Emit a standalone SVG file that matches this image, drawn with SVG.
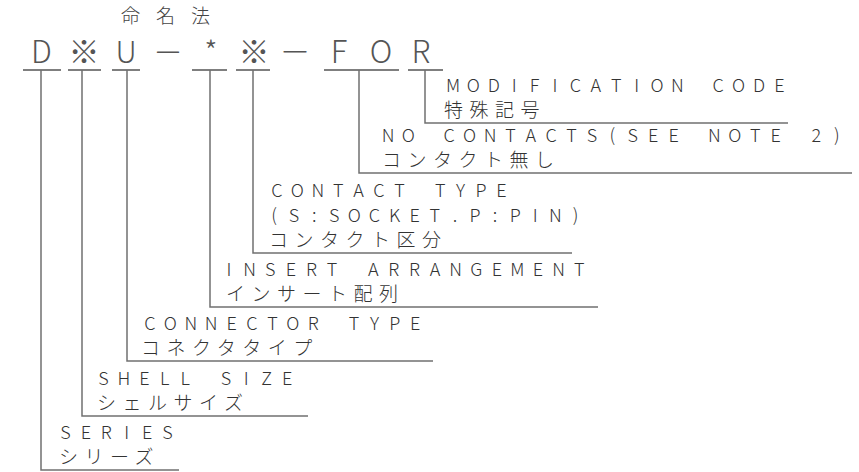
<svg xmlns="http://www.w3.org/2000/svg" width="859" height="472" viewBox="0 0 859 472">
<style>
.bg{fill:#ffffff}
.lat{font-family:"Noto Sans CJK JP","Noto Sans CJK SC",sans-serif;font-size:18px;fill:#333;font-weight:300}
.jp{font-family:"Noto Sans CJK JP","Noto Sans CJK SC",sans-serif;font-size:19px;letter-spacing:6.5px;fill:#333;font-weight:300}
.title{font-family:"Noto Sans CJK JP","Noto Sans CJK SC",sans-serif;font-size:19px;letter-spacing:16px;fill:#444;font-weight:300}
.code{font-family:"Noto Sans CJK JP","Noto Sans CJK SC",sans-serif;font-size:31px;fill:#555;font-weight:300}
.codes{font-family:"Noto Sans CJK JP","Noto Sans CJK SC",sans-serif;font-size:30px;fill:#555;font-weight:300}
.ul{stroke:#555;stroke-width:1.4;fill:none}
.br{stroke:#707070;stroke-width:1.5;fill:none}
</style>
<rect class="bg" x="0" y="0" width="859" height="472"/>
<g id="title"><text class="title" x="121" y="22.5">命名法</text></g>
<g id="code">
<text class="code" x="41.5 84" y="63" text-anchor="middle">D※</text>
<text class="codes" x="126 168 211" y="63" text-anchor="middle">U－*</text>
<text class="code" x="254 295 339 381 421" y="63" text-anchor="middle">※－FOR</text>
<path class="ul" d="M23 70H61M68 70H101M112 70H140M192 70H227M236 70H270M324 70H399M408 70H443"/>
</g>
<g id="connectors">
<path class="br" d="M425 70V123H788"/>
<path class="br" d="M359 70V173H852"/>
<path class="br" d="M253 70V253H572"/>
<path class="br" d="M210 70V307H598"/>
<path class="br" d="M127 70V361H433"/>
<path class="br" d="M82 70V416H308"/>
<path class="br" d="M41 70V470H179"/>
</g>
<g id="modification">
<text class="lat" text-anchor="middle" x="453 473.4 493.8 514.2 534.6 555 575.4 595.8 616.2 636.6 657 677.4 697.8 718.2 738.6 759 779.4" y="92">MODIFICATION CODE</text>
<text class="jp" x="444" y="117">特殊記号</text>
</g>
<g id="no-contacts">
<text class="lat" text-anchor="middle" x="388 408.4 428.8 449.2 469.6 490 510.4 530.8 551.2 571.6 592 612.4 632.8 653.2 673.6 694 714.4 734.8 755.2 775.6 796 816.4 836.8" y="142">NO CONTACTS(SEE NOTE 2)</text>
<text class="jp" x="382" y="167">コンタクト無し</text>
</g>
<g id="contact-type">
<text class="lat" text-anchor="middle" x="277 297.4 317.8 338.2 358.6 379 399.4 419.8 440.2 460.6 481 501.4" y="197">CONTACT TYPE</text>
<text class="lat" text-anchor="middle" x="274 294.1 314.2 334.3 354.4 374.5 394.6 414.7 434.8 454.9 475 495.1 515.2 535.3 555.4 575.5" y="222">(S:SOCKET.P:PIN)</text>
<text class="jp" x="269" y="247">コンタクト区分</text>
</g>
<g id="insert-arrangement">
<text class="lat" text-anchor="middle" x="229 249.6 270.2 290.8 311.4 332 352.6 373.2 393.8 414.4 435 455.6 476.2 496.8 517.4 538 558.6 579.2" y="276">INSERT ARRANGEMENT</text>
<text class="jp" x="226" y="301">インサート配列</text>
</g>
<g id="connector-type">
<text class="lat" text-anchor="middle" x="150 170.4 190.8 211.2 231.6 252 272.4 292.8 313.2 333.6 354 374.4 394.8 415.2" y="330">CONNECTOR TYPE</text>
<text class="jp" x="141" y="355">コネクタタイプ</text>
</g>
<g id="shell-size">
<text class="lat" text-anchor="middle" x="103.5 123.9 144.3 164.7 185.1 205.5 225.9 246.3 266.7 287.1" y="385">SHELL SIZE</text>
<text class="jp" x="97" y="410">シェルサイズ</text>
</g>
<g id="series">
<text class="lat" text-anchor="middle" x="65.5 85.9 106.3 126.7 147.1 167.5" y="439">SERIES</text>
<text class="jp" x="59" y="464">シリーズ</text>
</g>
</svg>
